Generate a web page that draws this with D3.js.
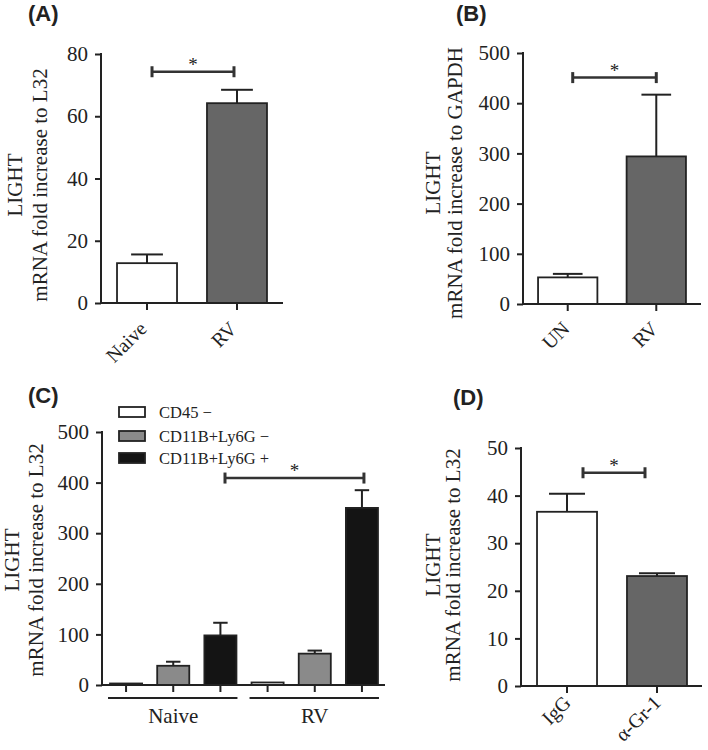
<!DOCTYPE html>
<html>
<head>
<meta charset="utf-8">
<script src="https://cdn.jsdelivr.net/npm/d3@7"></script>
<style>
  html, body { margin: 0; padding: 0; background: #fff; }
  svg { display: block; }
  text { font-family: "Liberation Serif", "Times New Roman", serif; fill: #222; }
  .plabel { font-family: "Liberation Sans", Arial, sans-serif; font-weight: bold; }
</style>
</head>
<body>
<svg id="chart" width="708" height="750"></svg>
<script>
// ---------- DATA ----------
const catsA = ["Naive", "RV"];
const valsA = [12.8, 64.2];
const errA = [15.6, 68.5];
const ticksA = [0, 20, 40, 60, 80];

const catsB = ["UN", "RV"];
const valsB = [53, 294];
const errB = [60, 417];
const ticksB = [0, 100, 200, 300, 400, 500];

const groupsC = ["Naive", "RV"];
const seriesC = ["CD45 \u2212", "CD11B+Ly6G \u2212", "CD11B+Ly6G +"];
const valsCNaive = [3, 38, 98];
const errCNaive = [3, 46, 123];
const valsCRV = [5, 62, 350];
const errCRV = [5, 68, 385];
const ticksC = [0, 100, 200, 300, 400, 500];

const catsD = ["IgG", "\u03b1-Gr-1"];
const valsD = [36.6, 23.1];
const errD = [40.4, 23.7];
const ticksD = [0, 10, 20, 30, 40, 50];

const yTitle1 = "LIGHT";
const yTitleL32 = "mRNA fold increase to L32";
const yTitleGAPDH = "mRNA fold increase to GAPDH";

// ---------- STYLE ----------
const INK = "#222";
const DARK = "#666666";
const MID = "#8a8a8a";
const BLACK = "#141414";
const SERIF = "'Liberation Serif', 'Times New Roman', serif";

const svg = d3.select("#chart");

function drawAxes(g, x, y, ticks, x0, x1, y0, labelShift) {
  const ya = g.append("g").attr("transform", `translate(${x0},0)`)
    .call(d3.axisLeft(y).tickValues(ticks).tickSize(6).tickPadding(7).tickFormat(d3.format("d")))
    .attr("font-family", SERIF).attr("font-size", 21);
  ya.select(".domain").remove();
  ya.selectAll(".tick line").attr("stroke", INK).attr("stroke-width", 2);
  ya.selectAll(".tick text").style("font-size", "21px").style("font-family", SERIF).attr("fill", INK);
  g.append("line").attr("x1", x0).attr("x2", x0).attr("y1", y(ticks[ticks.length - 1]) - 1).attr("y2", y0 + 1)
    .attr("stroke", INK).attr("stroke-width", 2);
  g.append("line").attr("x1", x0 - 1).attr("x2", x1).attr("y1", y0).attr("y2", y0)
    .attr("stroke", INK).attr("stroke-width", 2);
  const xa = g.append("g").attr("transform", `translate(0,${y0})`)
    .call(d3.axisBottom(x).tickSize(7).tickSizeOuter(0))
    .attr("font-family", SERIF).attr("font-size", 20);
  xa.select(".domain").remove();
  xa.selectAll(".tick line").attr("stroke", INK).attr("stroke-width", 2);
  if (labelShift) {
    xa.selectAll(".tick text")
      .style("font-size", "20px").style("font-family", SERIF).attr("fill", INK)
      .attr("text-anchor", "end")
      .attr("x", 0).attr("y", 0).attr("dy", "0")
      .attr("transform", `translate(${labelShift[0]},${labelShift[1]}) rotate(-45)`);
  } else {
    xa.selectAll(".tick text").remove();
  }
}

function drawTitle(g, xLight, xLine2, yc, line2) {
  g.append("text").attr("transform", `translate(${xLight},${yc}) rotate(-90)`)
    .attr("text-anchor", "middle").style("font-size", "21px").text(yTitle1);
  g.append("text").attr("transform", `translate(${xLine2},${yc}) rotate(-90)`)
    .attr("text-anchor", "middle").style("font-size", "21px").text(line2);
}

function drawSig(g, xa, xb, yv) {
  g.append("line").attr("x1", xa).attr("x2", xb).attr("y1", yv).attr("y2", yv)
    .attr("stroke", "#333").attr("stroke-width", 2.5);
  [xa, xb].forEach(xx => g.append("line").attr("x1", xx).attr("x2", xx)
    .attr("y1", yv - 5.5).attr("y2", yv + 5.5).attr("stroke", "#333").attr("stroke-width", 3));
  g.append("text").attr("x", (xa + xb) / 2).attr("y", yv - 1).attr("text-anchor", "middle")
    .style("font-size", "19px").text("*");
}

function drawBars(g, x, y, cats, vals, errs, fills, capFrac) {
  const data = cats.map((c, i) => ({ c, v: vals[i], e: errs[i], f: fills[i] }));
  const bw = x.bandwidth();
  data.forEach(d => {
    const cx = x(d.c) + bw / 2;
    if (d.e > d.v) {
      g.append("line").attr("x1", cx).attr("x2", cx).attr("y1", y(d.v)).attr("y2", y(d.e))
        .attr("stroke", INK).attr("stroke-width", 2);
      g.append("line").attr("x1", cx - bw * capFrac / 2).attr("x2", cx + bw * capFrac / 2)
        .attr("y1", y(d.e)).attr("y2", y(d.e)).attr("stroke", INK).attr("stroke-width", 2);
    }
  });
  g.selectAll(null).data(data).join("rect")
    .attr("x", d => x(d.c)).attr("width", bw)
    .attr("y", d => y(d.v)).attr("height", d => y(0) - y(d.v))
    .attr("fill", d => d.f).attr("stroke", INK).attr("stroke-width", 1.8);
}

function panelLabel(x, y, t) {
  svg.append("text").attr("class", "plabel").attr("x", x).attr("y", y).style("font-size", "22px").text(t);
}

// ---------- PANEL A ----------
{
  const g = svg.append("g");
  const x = d3.scaleBand().domain(catsA).range([101, 283]).paddingInner(0.333).paddingOuter(0.178);
  const y = d3.scaleLinear().domain([0, 80]).range([303, 54]);
  drawBars(g, x, y, catsA, valsA, errA, ["#fff", DARK], 0.53);
  drawAxes(g, x, y, ticksA, 101, 283, 303, [1, 27]);
  drawTitle(g, 22, 47, 185, yTitleL32);
  drawSig(g, x("Naive") + x.bandwidth() / 2 + 5, x("RV") + x.bandwidth() / 2 - 3, y(74.3));
  panelLabel(28, 21, "(A)");
}

// ---------- PANEL B ----------
{
  const g = svg.append("g");
  const x = d3.scaleBand().domain(catsB).range([523, 701]).paddingInner(0.33).paddingOuter(0.17);
  const y = d3.scaleLinear().domain([0, 500]).range([304, 53]);
  drawBars(g, x, y, catsB, valsB, errB, ["#fff", DARK], 0.5);
  drawAxes(g, x, y, ticksB, 523, 701, 304, [3, 26]);
  drawTitle(g, 440, 462, 183, yTitleGAPDH);
  drawSig(g, x("UN") + x.bandwidth() / 2 + 5, x("RV") + x.bandwidth() / 2, y(451));
  panelLabel(456, 21, "(B)");
}

// ---------- PANEL C ----------
{
  const g = svg.append("g");
  const keys = [];
  groupsC.forEach(gr => seriesC.forEach(s => keys.push(gr + "|" + s)));
  const x = d3.scaleBand().domain(keys).range([102, 386]).paddingInner(0.32).paddingOuter(0.17);
  const y = d3.scaleLinear().domain([0, 500]).range([685, 432]);
  const fillsC = ["#fff", MID, BLACK];
  const vals = valsCNaive.concat(valsCRV);
  const errs = errCNaive.concat(errCRV);
  drawBars(g, x, y, keys, vals, errs, fillsC.concat(fillsC), 0.45);
  drawAxes(g, x, y, ticksC, 102, 385, 685, null);
  drawTitle(g, 19, 43, 560, yTitleL32);
  groupsC.forEach(gr => {
    const first = x(gr + "|" + seriesC[0]);
    const last = x(gr + "|" + seriesC[2]) + x.bandwidth();
    g.append("line").attr("x1", first - 2).attr("x2", last + 1).attr("y1", 698).attr("y2", 698)
      .attr("stroke", INK).attr("stroke-width", 2);
    g.append("text").attr("x", (first + last) / 2).attr("y", 723).attr("text-anchor", "middle")
      .style("font-size", "21px").text(gr);
  });
  drawSig(g, 225, x("RV|" + seriesC[2]) + x.bandwidth() / 2 + 2, y(409));
  const leg = g.append("g");
  const legY = [412, 436, 458];
  seriesC.forEach((s, i) => {
    leg.append("rect").attr("x", 119).attr("y", legY[i] - 5).attr("width", 26).attr("height", 10)
      .attr("fill", fillsC[i]).attr("stroke", INK).attr("stroke-width", 1.8);
    leg.append("text").attr("x", 159).attr("y", legY[i] + 6).style("font-size", "16.5px").text(s);
  });
  panelLabel(28, 403, "(C)");
}

// ---------- PANEL D ----------
{
  const g = svg.append("g");
  const x = d3.scaleBand().domain(catsD).range([521, 703]).paddingInner(0.333).paddingOuter(0.178);
  const y = d3.scaleLinear().domain([0, 50]).range([686, 448]);
  drawBars(g, x, y, catsD, valsD, errD, ["#fff", DARK], 0.6);
  drawAxes(g, x, y, ticksD, 521, 702, 686, [5, 18]);
  drawTitle(g, 440, 460, 565, yTitleL32);
  drawSig(g, 583, 645, y(44.8));
  panelLabel(453, 405, "(D)");
}
</script>
</body>
</html>
